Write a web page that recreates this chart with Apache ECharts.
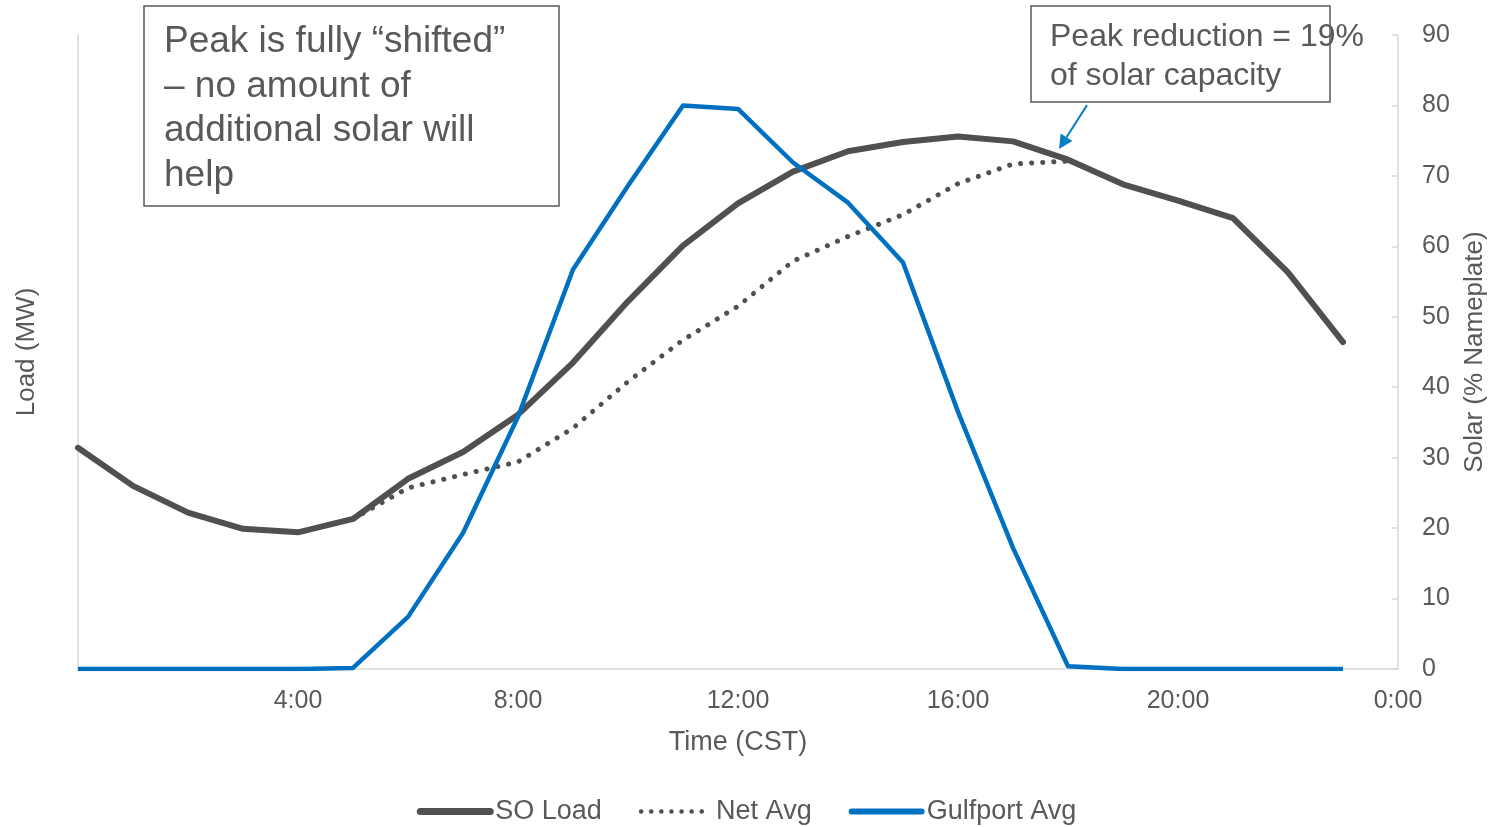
<!DOCTYPE html>
<html>
<head>
<meta charset="utf-8">
<script src="https://cdn.jsdelivr.net/npm/echarts@6/dist/echarts.min.js"></script>
<style>
  html, body { margin: 0; padding: 0; background: #fff; }
  #chart { width: 1493px; height: 827px; }
</style>
</head>
<body>
<div id="chart"></div>
<script>
// Hour of day (CST)
const hours = [0, 1, 2, 3, 4, 5, 6, 7, 8, 9, 10, 11, 12, 13, 14, 15, 16, 17, 18, 19, 20, 21, 22, 23];

// SO system load (left axis, unlabeled scale)
const soLoad = [31.4, 26.0, 22.2, 19.9, 19.4, 21.3, 27.0, 30.8, 36.1, 43.5, 52.2, 60.1,
                66.1, 70.6, 73.5, 74.8, 75.6, 74.9, 72.3, 68.8, 66.5, 64.0, 56.3, 46.4];

// Net load after solar (left axis); only meaningful between 5:00 and 18:00
const netAvg = [null, null, null, null, null, 21.3, 25.7, 27.6, 29.4, 34.2, 40.8, 46.7,
                51.5, 57.9, 61.4, 64.5, 68.9, 71.7, 72.1, null, null, null, null, null];

// Gulfport solar output, % of nameplate (right axis)
const gulfportAvg = [0, 0, 0, 0, 0, 0.15, 7.4, 19.3, 35.8, 56.7, 68.6, 80.0,
                     79.5, 71.9, 66.2, 57.7, 36.5, 17.2, 0.4, 0, 0, 0, 0, 0];

// Axis tick settings
const xTicks = { min: 0, max: 24, interval: 4 };
const solarTicks = { min: 0, max: 90, interval: 10 };

const seriesNames = ['SO Load', 'Net Avg', 'Gulfport Avg'];
const noteLeft = 'Peak is fully \u201cshifted\u201d\n\u2013 no amount of\nadditional solar will\nhelp';
const noteRight = 'Peak reduction = 19%\nof solar capacity';

const pair = (arr) => hours.map((h, i) => [h, arr[i]]);

const textColor = '#595959';
const axisGray = '#d9d9d9';
const lineGray = '#505050';
const blue = '#0070c0';
const font = 'Liberation Sans, Arial, sans-serif';

const chart = echarts.init(document.getElementById('chart'), null, { renderer: 'canvas' });

chart.setOption({
  animation: false,
  backgroundColor: '#ffffff',
  textStyle: { fontFamily: font, color: textColor },
  grid: { left: 78, right: 95, top: 35, bottom: 158, containLabel: false, outerBoundsMode: 'none' },
  legend: {
    bottom: -3,
    left: 'center',
    itemWidth: 70,
    itemHeight: 14,
    itemGap: 37,
    itemStyle: { opacity: 0 },
    textStyle: { fontSize: 27, color: textColor, fontFamily: font },
    data: [
      { name: seriesNames[0], lineStyle: { color: lineGray, width: 7, cap: 'round' } },
      { name: seriesNames[1], lineStyle: { color: lineGray, width: 4.5, type: [0.1, 10], cap: 'round' } },
      { name: seriesNames[2], lineStyle: { color: blue, width: 6, cap: 'round' } }
    ]
  },
  xAxis: {
    type: 'value',
    min: xTicks.min,
    max: xTicks.max,
    interval: xTicks.interval,
    name: 'Time (CST)',
    nameLocation: 'middle',
    nameGap: 60,
    nameTextStyle: { fontSize: 27, color: textColor, fontFamily: font },
    axisLine: { show: true, lineStyle: { color: axisGray, width: 1.5 } },
    axisTick: { show: false },
    splitLine: { show: false },
    axisLabel: {
      showMinLabel: false,
      fontSize: 25,
      color: textColor,
      margin: 20,
      formatter: (v) => (v % 24) + ':00'
    }
  },
  yAxis: [
    {
      type: 'value',
      position: 'left',
      min: solarTicks.min,
      max: solarTicks.max,
      interval: solarTicks.interval,
      name: 'Load (MW)',
      nameLocation: 'middle',
      nameRotate: 90,
      nameGap: 38,
      nameTextStyle: { fontSize: 26, color: textColor, fontFamily: font },
      axisLine: { show: true, lineStyle: { color: axisGray, width: 1.5 } },
      axisTick: { show: false },
      axisLabel: { show: false },
      splitLine: { show: false }
    },
    {
      type: 'value',
      position: 'right',
      min: solarTicks.min,
      max: solarTicks.max,
      interval: solarTicks.interval,
      name: 'Solar (% Nameplate)',
      nameLocation: 'middle',
      nameRotate: 90,
      nameGap: 64,
      nameTextStyle: { fontSize: 26, color: textColor, fontFamily: font },
      axisLine: { show: true, lineStyle: { color: axisGray, width: 1.5 } },
      axisTick: { show: true, inside: true, length: 6, lineStyle: { color: axisGray, width: 1.5 } },
      axisLabel: { fontSize: 25, color: textColor, margin: 24 },
      splitLine: { show: false }
    }
  ],
  series: [
    {
      name: seriesNames[0],
      type: 'line',
      yAxisIndex: 0,
      data: pair(soLoad),
      symbol: 'none',
      z: 3,
      lineStyle: { color: lineGray, width: 6, cap: 'round', join: 'round' },
      itemStyle: { color: lineGray }
    },
    {
      name: seriesNames[1],
      type: 'line',
      yAxisIndex: 0,
      data: pair(netAvg),
      symbol: 'none',
      connectNulls: false,
      z: 2,
      lineStyle: { color: lineGray, width: 5, type: [0.1, 11], cap: 'round', join: 'round' },
      itemStyle: { color: lineGray }
    },
    {
      name: seriesNames[2],
      type: 'line',
      yAxisIndex: 1,
      data: pair(gulfportAvg),
      symbol: 'none',
      z: 4,
      lineStyle: { color: blue, width: 4.5, join: 'round' },
      itemStyle: { color: blue }
    }
  ]
});

// Callout boxes and arrow pointing at the net-load peak (18:00)
const peakIdx = 18;
const tip = chart.convertToPixel({ xAxisIndex: 0, yAxisIndex: 0 }, [hours[peakIdx], netAvg[peakIdx]]);
const tipX = tip[0] - 9;
const tipY = tip[1] - 12;
const tailX = tipX + 28;
const tailY = tipY - 44;
const ang = Math.atan2(tipY - tailY, tipX - tailX);
const headLen = 14, headHalf = 7;
const bx = tipX - headLen * Math.cos(ang), by = tipY - headLen * Math.sin(ang);
const px = -Math.sin(ang) * headHalf, py = Math.cos(ang) * headHalf;

chart.setOption({
  graphic: [
    {
      type: 'rect',
      shape: { x: 144, y: 6, width: 415, height: 200 },
      style: { fill: '#ffffff', stroke: '#595959', lineWidth: 1.5 },
      z: 10
    },
    {
      type: 'text',
      x: 164, y: 20,
      style: { text: noteLeft, font: '37px ' + font, fill: textColor, lineHeight: 44.5 },
      z: 11
    },
    {
      type: 'rect',
      shape: { x: 1031, y: 6, width: 299, height: 96 },
      style: { fill: '#ffffff', stroke: '#595959', lineWidth: 1.5 },
      z: 10
    },
    {
      type: 'text',
      x: 1050, y: 18,
      style: { text: noteRight, font: '32px ' + font, fill: textColor, lineHeight: 39 },
      z: 11
    },
    {
      type: 'line',
      shape: { x1: tailX, y1: tailY, x2: bx, y2: by },
      style: { stroke: '#0a7ec2', lineWidth: 2 },
      z: 12
    },
    {
      type: 'polygon',
      shape: { points: [[tipX, tipY], [bx + px, by + py], [bx - px, by - py]] },
      style: { fill: '#0a7ec2' },
      z: 12
    }
  ]
});
</script>
</body>
</html>
